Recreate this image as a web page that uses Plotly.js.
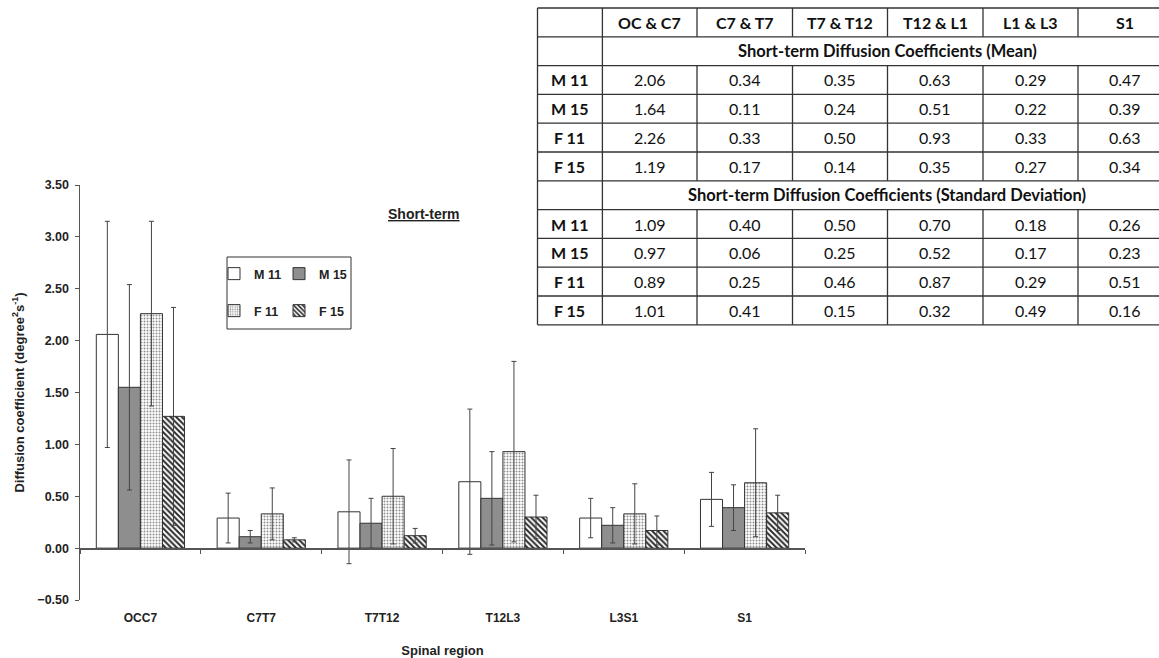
<!DOCTYPE html>
<html>
<head>
<meta charset="utf-8">
<script src="https://cdn.plot.ly/plotly-3.0.1.min.js"></script>
<style>html,body{margin:0;padding:0;background:#fff;}#chart{width:1159px;height:658px;}</style>
</head>
<body>
<div id="chart"></div>
<script>
// ---- chart data ----
var categories = ['OCC7', 'C7T7', 'T7T12', 'T12L3', 'L3S1', 'S1'];
var seriesNames = ['M 11', 'M 15', 'F 11', 'F 15'];
var m11 = [2.06, 0.29, 0.35, 0.64, 0.29, 0.47];
var m11sd = [1.09, 0.24, 0.50, 0.70, 0.19, 0.26];
var m15 = [1.55, 0.11, 0.24, 0.48, 0.22, 0.39];
var m15sd = [0.99, 0.06, 0.24, 0.45, 0.17, 0.22];
var f11 = [2.26, 0.33, 0.50, 0.93, 0.33, 0.63];
var f11sd = [0.89, 0.25, 0.46, 0.87, 0.29, 0.52];
var f15 = [1.27, 0.08, 0.12, 0.30, 0.17, 0.34];
var f15sd = [1.05, 0.02, 0.07, 0.21, 0.14, 0.17];

// ---- table data ----
var tableCols = ['OC & C7', 'C7 & T7', 'T7 & T12', 'T12 & L1', 'L1 & L3', 'S1'];
var tableRowLabels = ['M 11', 'M 15', 'F 11', 'F 15'];
var meanTitle = 'Short-term Diffusion Coefficients (Mean)';
var sdTitle = 'Short-term Diffusion Coefficients (Standard Deviation)';
var meanM11 = ['2.06', '0.34', '0.35', '0.63', '0.29', '0.47'];
var meanM15 = ['1.64', '0.11', '0.24', '0.51', '0.22', '0.39'];
var meanF11 = ['2.26', '0.33', '0.50', '0.93', '0.33', '0.63'];
var meanF15 = ['1.19', '0.17', '0.14', '0.35', '0.27', '0.34'];
var sdM11 = ['1.09', '0.40', '0.50', '0.70', '0.18', '0.26'];
var sdM15 = ['0.97', '0.06', '0.25', '0.52', '0.17', '0.23'];
var sdF11 = ['0.89', '0.25', '0.46', '0.87', '0.29', '0.51'];
var sdF15 = ['1.01', '0.41', '0.15', '0.32', '0.49', '0.16'];

// ---- layout geometry ----
var W = 1159, H = 658;
var M = {l: 80, r: 354, t: 185, b: 58};
var pw = W - M.l - M.r, ph = H - M.t - M.b;
function px(x) { return (x - M.l) / pw; }
function py(y) { return (H - M.b - y) / ph; }
var yRange = [-0.5, 3.5];
var zeroPos = (0 - yRange[0]) / (yRange[1] - yRange[0]);

var lineCol = '#555';
var errCol = '#444';
function err(a) { return {type: 'data', array: a, visible: true, color: errCol, thickness: 1, width: 2.5}; }

var traces = [
  {type: 'bar', name: seriesNames[0], x: categories, y: m11, error_y: err(m11sd), legend: 'legend',
   marker: {color: '#ffffff', line: {color: '#333', width: 1}}},
  {type: 'bar', name: seriesNames[1], x: categories, y: m15, error_y: err(m15sd), legend: 'legend', legendwidth: 40,
   marker: {color: '#8e8e8e', line: {color: '#333', width: 1}}},
  {type: 'bar', name: seriesNames[2], x: categories, y: f11, error_y: err(f11sd), legend: 'legend2',
   marker: {color: '#ffffff', line: {color: '#333', width: 1},
            pattern: {shape: '.', fgcolor: '#8f8f8f', bgcolor: '#ffffff', size: 3, solidity: 0.35}}},
  {type: 'bar', name: seriesNames[3], x: categories, y: f15, error_y: err(f15sd), legend: 'legend2', legendwidth: 40,
   marker: {color: '#ffffff', line: {color: '#333', width: 1},
            pattern: {shape: '\\', fgcolor: '#2a2a2a', bgcolor: '#ffffff', size: 4, solidity: 0.5}}}
];

// ---- table built from shapes + annotations ----
var colX = [537.5, 602.4, 697, 792.5, 887.5, 983, 1078, 1172];
var rowTop = 8, rowH = 28.8, nRows = 11;
var shapes = [], annotations = [];
var tLine = {color: '#333', width: 1.3};
for (var i = 0; i <= nRows; i++) {
  var yy = rowTop + i * rowH;
  shapes.push({type: 'line', xref: 'paper', yref: 'paper', x0: px(colX[0]), x1: px(W + 2), y0: py(yy), y1: py(yy), line: tLine});
}
shapes.push({type: 'line', xref: 'paper', yref: 'paper', x0: px(colX[0]), x1: px(colX[0]), y0: py(rowTop), y1: py(rowTop + nRows * rowH), line: tLine});
shapes.push({type: 'line', xref: 'paper', yref: 'paper', x0: px(colX[1]), x1: px(colX[1]), y0: py(rowTop), y1: py(rowTop + nRows * rowH), line: tLine});
var mergedRows = [1, 6];
for (var c = 2; c <= 6; c++) {
  for (var r = 0; r < nRows; r++) {
    if (mergedRows.indexOf(r) >= 0) continue;
    shapes.push({type: 'line', xref: 'paper', yref: 'paper', x0: px(colX[c]), x1: px(colX[c]),
                 y0: py(rowTop + r * rowH), y1: py(rowTop + (r + 1) * rowH), line: tLine});
  }
}
var tFont = 'Lato, "Open Sans", sans-serif';
function cellText(text, col, row, bold) {
  var cx = (colX[col] + colX[col + 1]) / 2;
  var cy = rowTop + (row + 0.5) * rowH;
  annotations.push({xref: 'paper', yref: 'paper', x: px(cx), y: py(cy), xanchor: 'center', yanchor: 'middle',
    showarrow: false, text: bold ? '<b>' + text + '</b>' : text,
    font: {family: tFont, size: 16, color: '#111'}});
}
function mergedText(text, row) {
  var cx = (colX[1] + colX[7]) / 2;
  var cy = rowTop + (row + 0.5) * rowH;
  annotations.push({xref: 'paper', yref: 'paper', x: px(cx), y: py(cy), xanchor: 'center', yanchor: 'middle',
    showarrow: false, text: '<b>' + text + '</b>', font: {family: tFont, size: 16.5, color: '#111'}});
}
tableCols.forEach(function (t, j) { cellText(t, j + 1, 0, true); });
mergedText(meanTitle, 1);
mergedText(sdTitle, 6);
var meanRows = [meanM11, meanM15, meanF11, meanF15];
var sdRows = [sdM11, sdM15, sdF11, sdF15];
tableRowLabels.forEach(function (lab, i) {
  cellText(lab, 0, 2 + i, true);
  meanRows[i].forEach(function (v, j) { cellText(v, j + 1, 2 + i, false); });
  cellText(lab, 0, 7 + i, true);
  sdRows[i].forEach(function (v, j) { cellText(v, j + 1, 7 + i, false); });
});

// legend box
shapes.push({type: 'rect', xref: 'paper', yref: 'paper', x0: px(227), x1: px(351), y0: py(329), y1: py(257),
  line: {color: '#333', width: 1}, fillcolor: 'rgba(0,0,0,0)', layer: 'above'});

// chart title
annotations.push({xref: 'paper', yref: 'paper', x: px(424), y: py(214), xanchor: 'center', yanchor: 'middle',
  showarrow: false, text: '<b><u>Short-term</u></b>', font: {size: 14, color: '#222'}});

var chartFont = {family: '"Liberation Sans", Arial, sans-serif', color: '#222'};
var legFont = {family: '"Liberation Sans", Arial, sans-serif', size: 12.5, color: '#222', weight: 'bold'};

var layout = {
  width: W, height: H,
  margin: M,
  paper_bgcolor: '#ffffff', plot_bgcolor: '#ffffff',
  font: chartFont,
  barmode: 'group', bargap: 0.27, bargroupgap: 0,
  showlegend: true,
  legend: {x: px(214), xanchor: 'left', y: py(274), yanchor: 'middle', orientation: 'h',
           bgcolor: 'rgba(0,0,0,0)', borderwidth: 0, font: legFont, itemwidth: 30, entrywidth: 20},
  legend2: {x: px(214), xanchor: 'left', y: py(311), yanchor: 'middle', orientation: 'h',
            bgcolor: 'rgba(0,0,0,0)', borderwidth: 0, font: legFont, itemwidth: 30, entrywidth: 20},
  xaxis: {type: 'category', anchor: 'free', position: zeroPos, range: [-0.5, categories.length - 0.5],
          showline: true, linecolor: lineCol, linewidth: 1.5, ticks: 'outside', ticklen: 4, tickcolor: lineCol,
          tickson: 'boundaries', ticklabelstandoff: 58, showgrid: false, zeroline: false,
          tickfont: {size: 12, weight: 'bold', color: '#222'},
          title: {text: '<b>Spinal region</b>', font: {size: 13, color: '#222'}, standoff: 22}},
  yaxis: {range: yRange, dtick: 0.5, tickformat: '.2f', showline: true, linecolor: lineCol, linewidth: 1.5,
          ticks: 'outside', ticklen: 4, tickcolor: lineCol, showgrid: false, zeroline: false,
          ticklabelstandoff: 3,
          tickfont: {size: 12.5, weight: 'bold', color: '#222'},
          title: {text: '<b>Diffusion coefficient (degree<sup>2</sup>s<sup>-1</sup>)</b>', font: {size: 13, color: '#222'}, standoff: 10}},
  shapes: shapes,
  annotations: annotations
};

Plotly.newPlot('chart', traces, layout, {displayModeBar: false, staticPlot: true});
</script>
</body>
</html>
